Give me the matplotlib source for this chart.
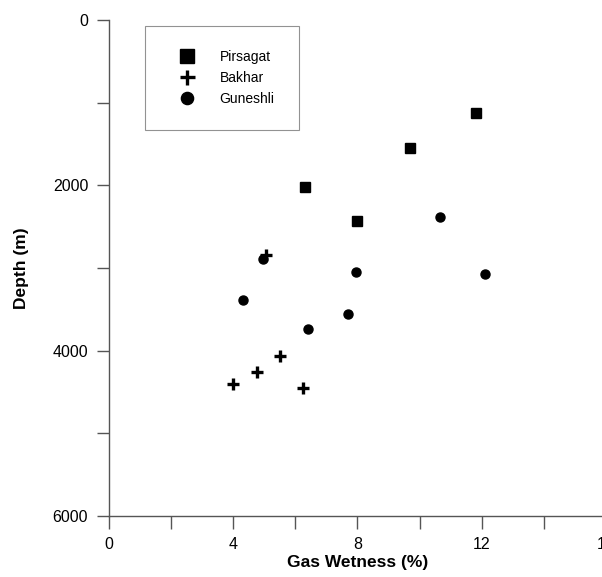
import matplotlib.pyplot as plt
from matplotlib.ticker import MultipleLocator

plt.rcParams['font.family'] = ['Liberation Sans', 'DejaVu Sans']

# values (gas wetness %, depth m)
pirsagat_wet = [11.8, 9.7, 6.3, 8.0]
pirsagat_depth = [1125, 1545, 2020, 2430]

bakhar_wet = [5.05, 5.5, 4.75, 4.0, 6.25]
bakhar_depth = [2845, 4065, 4260, 4400, 4455]

guneshli_wet = [10.65, 4.95, 7.95, 12.1, 4.3, 7.7, 6.4]
guneshli_depth = [2385, 2895, 3050, 3075, 3390, 3560, 3740]

fig = plt.figure(figsize=(6.02, 5.77), dpi=100)
ax = fig.add_axes([0.181, 0.1057, 0.8256, 0.8596])

ax.plot(pirsagat_wet, pirsagat_depth, 's', color='black', ms=7.5, label='Pirsagat')
ax.plot(bakhar_wet, bakhar_depth, '+', color='black', ms=8, mew=2.4, label='Bakhar')
ax.plot(guneshli_wet, guneshli_depth, 'o', color='black', ms=6.5, label='Guneshli')

ax.set_xlim(0, 16)
ax.set_ylim(6000, 0)
ax.xaxis.set_major_locator(MultipleLocator(4))
ax.xaxis.set_minor_locator(MultipleLocator(2))
ax.yaxis.set_major_locator(MultipleLocator(2000))
ax.yaxis.set_minor_locator(MultipleLocator(1000))

for s in ['top', 'right']:
    ax.spines[s].set_visible(False)
for s in ['left', 'bottom']:
    ax.spines[s].set_color('#555555')
    ax.spines[s].set_linewidth(1.0)

ax.tick_params(which='both', direction='out', length=9, width=1, color='#555555',
               labelsize=11.5, pad=6)

ax.set_xlabel('Gas Wetness (%)', fontsize=12.5, fontweight='bold', labelpad=2)
ax.set_ylabel('Depth (m)', fontsize=12.5, fontweight='bold', labelpad=17)

leg = ax.legend(loc='upper left', bbox_to_anchor=(0.072, 0.988), frameon=True,
                fancybox=False, fontsize=10, markerscale=1.35, handlelength=2.59,
                handletextpad=1.08, borderpad=1.73, labelspacing=0.51, borderaxespad=0)
leg.get_frame().set_edgecolor('#777777')
leg.get_frame().set_linewidth(0.8)

fig.savefig('out.png', dpi=100)
